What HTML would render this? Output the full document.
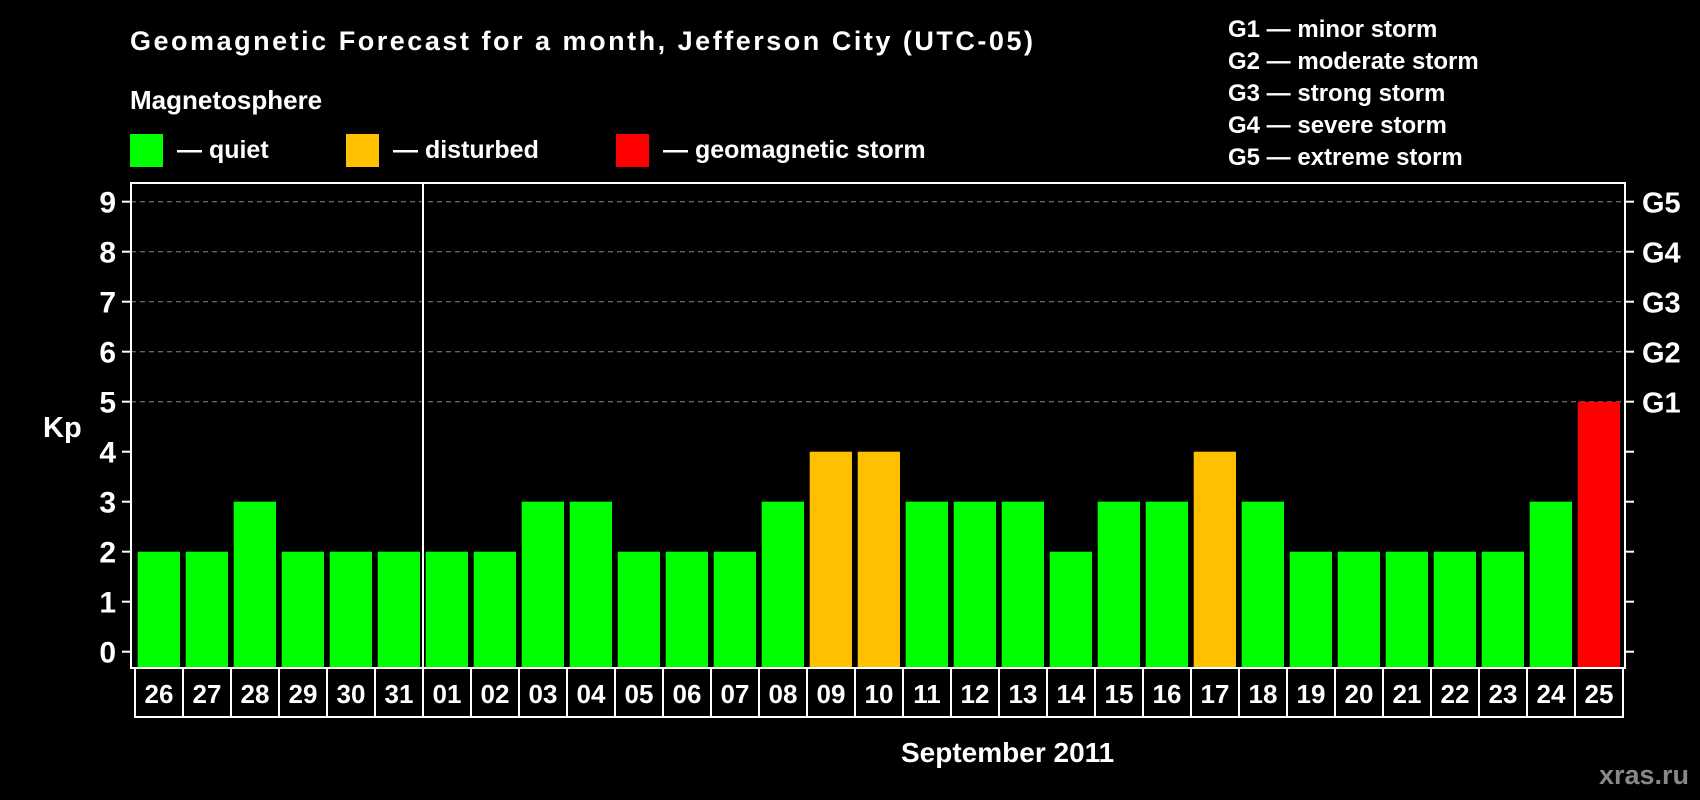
<!DOCTYPE html>
<html><head><meta charset="utf-8"><style>
html,body{margin:0;padding:0;background:#000;}
svg{display:block;font-family:"Liberation Sans",Arial,sans-serif;font-weight:bold;}
</style></head><body>
<svg id="chart" width="1700" height="800" viewBox="0 0 1700 800">
<rect width="1700" height="800" fill="#000"/>
<text x="130" y="50" fill="#fff" font-size="27" textLength="903">Geomagnetic Forecast for a month, Jefferson City (UTC-05)</text>
<text x="130" y="109" fill="#fff" font-size="26">Magnetosphere</text>
<g><rect x="130" y="134" width="33" height="33" fill="#00ff00"/><text x="177" y="158" fill="#fff" font-size="25">— quiet</text></g>
<g><rect x="346" y="134" width="33" height="33" fill="#ffc000"/><text x="393" y="158" fill="#fff" font-size="25">— disturbed</text></g>
<g><rect x="616" y="134" width="33" height="33" fill="#ff0000"/><text x="663" y="158" fill="#fff" font-size="25">— geomagnetic storm</text></g>
<g fill="#fff" font-size="24">
<text x="1228" y="37">G1 — minor storm</text>
<text x="1228" y="69">G2 — moderate storm</text>
<text x="1228" y="101">G3 — strong storm</text>
<text x="1228" y="133">G4 — severe storm</text>
<text x="1228" y="165">G5 — extreme storm</text>
</g>
<text x="43" y="437" fill="#fff" font-size="29">Kp</text>
<text x="901" y="762" fill="#fff" font-size="28">September 2011</text>
<text x="1689" y="784" fill="#888" font-size="27" text-anchor="end">xras.ru</text>
<g id="plot"></g>
</svg>
<script>
const days = ["26","27","28","29","30","31","01","02","03","04","05","06","07","08","09","10","11","12","13","14","15","16","17","18","19","20","21","22","23","24","25"];
const kpValues = [2,2,3,2,2,2,2,2,3,3,2,2,2,3,4,4,3,3,3,2,3,3,4,3,2,2,2,2,2,3,5];
const yTicks = [0,1,2,3,4,5,6,7,8,9];
const gLabels = ["G1","G2","G3","G4","G5"];
const gLevels = [5,6,7,8,9];

const NS = "http://www.w3.org/2000/svg";
const plot = document.getElementById('plot');
const L = 131, T = 183, R = 1625, B = 668;
const x0 = 135, pitch = (1623 - 135) / days.length;
function yScale(v){ return 651.7 - v * 50; }
function xScale(i){ return x0 + i * pitch; }
function mk(tag, attrs){ const e = document.createElementNS(NS, tag); for (const k in attrs) e.setAttribute(k, attrs[k]); plot.appendChild(e); return e; }

gLevels.forEach(function(v){
  const g = mk('line', {x1:L, x2:R, y1:yScale(v), y2:yScale(v), stroke:'#888', 'stroke-width':1, 'stroke-dasharray':'5,4'});
  
  
});
kpValues.forEach(function(v, i){
  const color = v >= 5 ? '#ff0000' : (v >= 4 ? '#ffc000' : '#00ff00');
  const top = yScale(v);
  const b = mk('rect', {x:xScale(i) + 2.7, y:top, width:42.3, height:B - top, fill:color});
  
  
});
const frame = mk('rect', {x:L, y:T, width:R - L, height:B - T, fill:'none', stroke:'#fff', 'stroke-width':2});


const div = mk('line', {x1:xScale(6), x2:xScale(6), y1:T, y2:B, stroke:'#fff', 'stroke-width':2});


yTicks.forEach(function(v){
  const y = yScale(v);
  const t1 = mk('line', {x1:122, x2:L, y1:y, y2:y, stroke:'#fff', 'stroke-width':2});
  
  
  const t2 = mk('line', {x1:R, x2:1634, y1:y, y2:y, stroke:'#fff', 'stroke-width':2});
  
  
  const lb = mk('text', {x:116, y:y + 11, fill:'#fff', 'font-size':30, 'text-anchor':'end'});
  lb.textContent = String(v);
  
  
});
gLevels.forEach(function(v, i){
  const lb = mk('text', {x:1642, y:yScale(v) + 11, fill:'#fff', 'font-size':29});
  lb.textContent = gLabels[i];
  
  
});
const box = mk('rect', {x:x0, y:B, width:pitch * days.length, height:49, fill:'none', stroke:'#fff', 'stroke-width':2});


days.forEach(function(d, i){
  if (i > 0) {
    const s = mk('line', {x1:xScale(i), x2:xScale(i), y1:B, y2:B + 49, stroke:'#fff', 'stroke-width':2});
    
    
  }
  const t = mk('text', {x:xScale(i) + pitch / 2, y:B + 35, fill:'#fff', 'font-size':26, 'text-anchor':'middle'});
  t.textContent = d;
  
  
});
</script>
</body></html>
